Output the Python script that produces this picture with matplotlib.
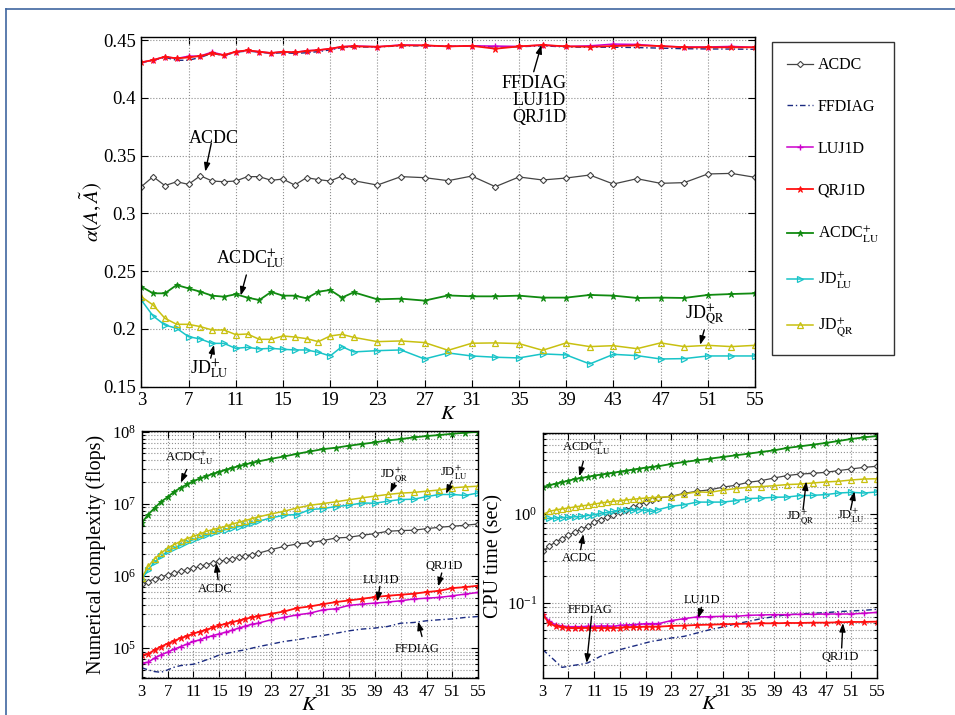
import numpy as np
import matplotlib
matplotlib.use("Agg")
import matplotlib.pyplot as plt
from matplotlib.lines import Line2D
from matplotlib.ticker import LogLocator, NullFormatter

plt.rcParams['font.family'] = ['Liberation Serif', 'DejaVu Serif']
plt.rcParams['mathtext.fontset'] = 'stix'

# ---------------- data ----------------
K = [3, 4, 5, 6, 7, 8, 9, 10, 11, 12, 13, 14, 15, 16, 17, 18, 19, 20, 21,
     23, 25, 27, 29, 31, 33, 35, 37, 39, 41, 43, 45, 47, 49, 51, 53, 55]

methods = ["ACDC", "FFDIAG", "LUJ1D", "QRJ1D", "ACDC+LU", "JD+LU", "JD+QR"]

# performance index alpha(A, A~)
alpha_acdc = [0.3231, 0.3318, 0.3240, 0.3274, 0.3251, 0.3326, 0.3280, 0.3274, 0.3280, 0.3318,
              0.3318, 0.3286, 0.3297, 0.3245, 0.3309, 0.3292, 0.3280, 0.3323, 0.3283,
              0.3245, 0.3318, 0.3309, 0.3283, 0.3323, 0.3231, 0.3315, 0.3289, 0.3306, 0.3332,
              0.3254, 0.3300, 0.3260, 0.3266, 0.3341, 0.3346, 0.3312]
alpha_ffdiag = [0.4305, 0.4325, 0.4350, 0.4325, 0.4325, 0.4350, 0.4385, 0.4365, 0.4395, 0.4405,
                0.4395, 0.4385, 0.4390, 0.4385, 0.4390, 0.4400, 0.4415, 0.4435, 0.4440,
                0.4440, 0.4450, 0.4450, 0.4445, 0.4448, 0.4440, 0.4442, 0.4450, 0.4440, 0.4438,
                0.4438, 0.4435, 0.4430, 0.4425, 0.4423, 0.4422, 0.4420]
alpha_luj1d = [0.4307, 0.4327, 0.4356, 0.4341, 0.4360, 0.4362, 0.4396, 0.4370, 0.4399, 0.4411,
               0.4399, 0.4388, 0.4399, 0.4393, 0.4408, 0.4413, 0.4425, 0.4442, 0.4450,
               0.4442, 0.4458, 0.4454, 0.4445, 0.4450, 0.4448, 0.4445, 0.4457, 0.4445, 0.4450,
               0.4465, 0.4462, 0.4448, 0.4440, 0.4440, 0.4445, 0.4437]
alpha_qrj1d = [0.4307, 0.4327, 0.4356, 0.4341, 0.4350, 0.4362, 0.4385, 0.4370, 0.4399, 0.4411,
               0.4399, 0.4388, 0.4399, 0.4393, 0.4405, 0.4413, 0.4425, 0.4442, 0.4445,
               0.4442, 0.4454, 0.4454, 0.4445, 0.4450, 0.4425, 0.4445, 0.4457, 0.4445, 0.4442,
               0.4448, 0.4454, 0.4448, 0.4437, 0.4437, 0.4437, 0.4437]
alpha_acdclu = [0.2366, 0.2308, 0.2308, 0.2380, 0.2351, 0.2322, 0.2288, 0.2279, 0.2300, 0.2271,
                0.2250, 0.2320, 0.2288, 0.2288, 0.2265, 0.2322, 0.2337, 0.2271, 0.2317,
                0.2256, 0.2262, 0.2245, 0.2290, 0.2282, 0.2282, 0.2288, 0.2271, 0.2271, 0.2294,
                0.2288, 0.2268, 0.2271, 0.2268, 0.2294, 0.2302, 0.2308]
alpha_jdlu = [0.2250, 0.2112, 0.2034, 0.2005, 0.1933, 0.1913, 0.1875, 0.1875, 0.1832, 0.1841,
              0.1827, 0.1832, 0.1824, 0.1818, 0.1818, 0.1798, 0.1766, 0.1847, 0.1801,
              0.1812, 0.1818, 0.1740, 0.1792, 0.1766, 0.1755, 0.1749, 0.1784, 0.1775, 0.1697,
              0.1780, 0.1769, 0.1740, 0.1743, 0.1766, 0.1766, 0.1766]
alpha_jdqr = [0.2279, 0.2207, 0.2092, 0.2040, 0.2040, 0.2020, 0.1991, 0.1991, 0.1951, 0.1956,
              0.1910, 0.1910, 0.1939, 0.1930, 0.1916, 0.1890, 0.1939, 0.1953, 0.1927,
              0.1890, 0.1896, 0.1882, 0.1815, 0.1876, 0.1879, 0.1873, 0.1815, 0.1879, 0.1847,
              0.1855, 0.1829, 0.1879, 0.1847, 0.1858, 0.1847, 0.1858]

# numerical complexity (flops)
flops_acdc = [7.7e5, 8.4e5, 9.2e5, 9.7e5, 1.04e6, 1.10e6, 1.16e6, 1.22e6, 1.29e6, 1.36e6,
              1.44e6, 1.52e6, 1.60e6, 1.67e6, 1.74e6, 1.82e6, 1.90e6, 1.98e6, 2.07e6,
              2.32e6, 2.58e6, 2.78e6, 2.90e6, 3.10e6, 3.37e6, 3.44e6, 3.67e6, 3.87e6, 4.17e6,
              4.27e6, 4.31e6, 4.54e6, 4.74e6, 4.90e6, 5.06e6, 5.27e6]
flops_ffdiag = [5.38e4, 5.00e4, 4.74e4, 4.64e4, 5.00e4, 5.45e4, 5.74e4, 5.87e4, 6.00e4, 6.40e4,
                6.89e4, 7.41e4, 8.07e4, 8.43e4, 8.79e4, 9.18e4, 9.48e4, 1.00e5, 1.05e5,
                1.14e5, 1.24e5, 1.31e5, 1.41e5, 1.50e5, 1.61e5, 1.74e5, 1.84e5, 1.90e5, 2.00e5,
                2.22e5, 2.27e5, 2.40e5, 2.48e5, 2.55e5, 2.67e5, 2.75e5]
flops_luj1d = [6.2e4, 6.4e4, 7.3e4, 8.1e4, 8.8e4, 9.7e4, 1.05e5, 1.14e5, 1.24e5, 1.31e5,
               1.41e5, 1.50e5, 1.58e5, 1.67e5, 1.78e5, 1.90e5, 2.02e5, 2.15e5, 2.22e5,
               2.48e5, 2.67e5, 2.90e5, 3.06e5, 3.40e5, 3.52e5, 3.92e5, 4.08e5, 4.22e5, 4.36e5,
               4.54e5, 4.80e5, 4.94e5, 5.06e5, 5.33e5, 5.62e5, 5.93e5]
flops_qrj1d = [8.1e4, 8.3e4, 9.5e4, 1.05e5, 1.16e5, 1.26e5, 1.38e5, 1.47e5, 1.60e5, 1.70e5,
               1.80e5, 1.94e5, 2.07e5, 2.18e5, 2.30e5, 2.42e5, 2.55e5, 2.67e5, 2.78e5,
               3.00e5, 3.23e5, 3.60e5, 3.79e5, 4.08e5, 4.36e5, 4.59e5, 4.84e5, 5.11e5, 5.33e5,
               5.51e5, 5.69e5, 6.00e5, 6.25e5, 6.81e5, 7.03e5, 7.35e5]
flops_acdclu = [5.45e6, 7.1e6, 8.8e6, 1.07e7, 1.24e7, 1.47e7, 1.67e7, 1.86e7, 2.07e7, 2.25e7,
                2.42e7, 2.61e7, 2.78e7, 2.97e7, 3.16e7, 3.33e7, 3.52e7, 3.71e7, 3.87e7,
                4.22e7, 4.54e7, 4.94e7, 5.33e7, 5.74e7, 6.00e7, 6.40e7, 6.75e7, 7.11e7, 7.59e7,
                7.91e7, 8.34e7, 8.71e7, 9.00e7, 9.38e7, 9.68e7, 1.00e8]
flops_jdlu = [8.9e5, 1.22e6, 1.56e6, 1.87e6, 2.20e6, 2.45e6, 2.67e6, 2.94e6, 3.20e6, 3.44e6,
              3.67e6, 3.95e6, 4.17e6, 4.41e6, 4.65e6, 4.84e6, 5.06e6, 5.38e6, 5.74e6,
              6.40e6, 6.97e6, 7.11e6, 8.34e6, 8.61e6, 9.18e6, 9.57e6, 1.03e7, 1.02e7, 1.09e7,
              1.15e7, 1.16e7, 1.26e7, 1.35e7, 1.35e7, 1.31e7, 1.42e7]
flops_jdqr = [9.4e5, 1.36e6, 1.74e6, 2.08e6, 2.45e6, 2.72e6, 3.03e6, 3.30e6, 3.56e6, 3.83e6,
              4.17e6, 4.41e6, 4.65e6, 4.90e6, 5.27e6, 5.56e6, 5.87e6, 6.25e6, 6.59e6,
              7.26e6, 7.91e6, 8.79e6, 9.57e6, 1.01e7, 1.07e7, 1.14e7, 1.21e7, 1.28e7, 1.35e7,
              1.41e7, 1.44e7, 1.50e7, 1.56e7, 1.67e7, 1.72e7, 1.76e7]

# CPU time (sec)
cpu_acdc = [0.381, 0.434, 0.484, 0.528, 0.575, 0.628, 0.673, 0.726, 0.813, 0.863,
            0.918, 0.984, 1.05, 1.12, 1.19, 1.27, 1.36, 1.45, 1.51,
            1.58, 1.71, 1.80, 1.87, 2.00, 2.10, 2.27, 2.37, 2.54, 2.70,
            2.81, 2.86, 2.94, 3.07, 3.21, 3.34, 3.44]
cpu_ffdiag = [0.0299, 0.0258, 0.0221, 0.0189, 0.0194, 0.0200, 0.0205, 0.0212, 0.0231, 0.0252,
              0.0267, 0.0281, 0.0299, 0.0312, 0.0326, 0.0340, 0.0356, 0.0371, 0.0381,
              0.0404, 0.0422, 0.0460, 0.0501, 0.0537, 0.0581, 0.0622, 0.0667, 0.0702, 0.0740,
              0.0752, 0.0766, 0.0778, 0.0800, 0.0813, 0.0828, 0.0849]
cpu_luj1d = [0.0752, 0.0622, 0.0571, 0.0552, 0.0542, 0.0542, 0.0542, 0.0547, 0.0547, 0.0552,
             0.0552, 0.0547, 0.0561, 0.0566, 0.0571, 0.0576, 0.0586, 0.0586, 0.0586,
             0.0634, 0.0667, 0.0697, 0.0702, 0.0708, 0.0708, 0.0727, 0.0733, 0.0740, 0.0740,
             0.0746, 0.0746, 0.0752, 0.0752, 0.0752, 0.0766, 0.0784]
cpu_qrj1d = [0.0740, 0.0596, 0.0547, 0.0533, 0.0524, 0.0519, 0.0524, 0.0524, 0.0524, 0.0524,
             0.0524, 0.0524, 0.0528, 0.0533, 0.0533, 0.0537, 0.0542, 0.0542, 0.0542,
             0.0552, 0.0557, 0.0566, 0.0571, 0.0576, 0.0581, 0.0586, 0.0591, 0.0591, 0.0596,
             0.0596, 0.0601, 0.0601, 0.0606, 0.0612, 0.0612, 0.0617]
cpu_acdclu = [2.00, 2.10, 2.19, 2.27, 2.37, 2.47, 2.54, 2.61, 2.70, 2.77,
              2.84, 2.91, 2.99, 3.07, 3.15, 3.23, 3.32, 3.37, 3.44,
              3.65, 3.84, 4.01, 4.19, 4.37, 4.56, 4.76, 4.98, 5.19, 5.52,
              5.75, 6.01, 6.28, 6.61, 6.97, 7.26, 7.52]
cpu_jdlu = [0.90, 0.89, 0.90, 0.91, 0.92, 0.93, 0.94, 0.96, 0.98, 1.02,
            1.04, 1.07, 1.11, 1.12, 1.10, 1.12, 1.10, 1.07, 1.12,
            1.22, 1.27, 1.36, 1.36, 1.36, 1.41, 1.49, 1.51, 1.54, 1.55,
            1.61, 1.62, 1.65, 1.72, 1.75, 1.72, 1.77]
cpu_jdqr = [0.98, 1.07, 1.11, 1.14, 1.17, 1.20, 1.23, 1.26, 1.29, 1.33,
            1.36, 1.39, 1.41, 1.44, 1.46, 1.49, 1.51, 1.53, 1.54,
            1.57, 1.68, 1.77, 1.75, 1.85, 1.93, 2.00, 2.03, 2.08, 2.14,
            2.17, 2.23, 2.29, 2.33, 2.41, 2.47, 2.49]

xticks = [3, 7, 11, 15, 19, 23, 27, 31, 35, 39, 43, 47, 51, 55]
alpha_ticks = [0.15, 0.2, 0.25, 0.3, 0.35, 0.4, 0.45]
alpha_ticklabels = ['0.15', '0.2', '0.25', '0.3', '0.35', '0.4', '0.45']

# ---------------- styles ----------------
labels = {
    "ACDC": "ACDC", "FFDIAG": "FFDIAG", "LUJ1D": "LUJ1D", "QRJ1D": "QRJ1D",
    "ACDC+LU": r"ACDC$^{+}_{\mathrm{LU}}$",
    "JD+LU": r"JD$^{+}_{\mathrm{LU}}$",
    "JD+QR": r"JD$^{+}_{\mathrm{QR}}$",
}
styles = {
    "ACDC":    dict(color='#444444', marker='D', ms=3.2, mfc='white', mec='#444444', mew=0.8, ls='-', lw=0.9),
    "FFDIAG":  dict(color='#1a2a80', marker=None, ls=(0, (4, 2, 1, 2)), lw=1.0),
    "LUJ1D":   dict(color='#cc00cc', marker='+', ms=4.5, mew=1.0, ls='-', lw=1.1),
    "QRJ1D":   dict(color='#ff1010', marker='*', ms=4.5, mew=0.6, ls='-', lw=1.3),
    "ACDC+LU": dict(color='#108a10', marker='*', ms=5, mew=0.6, ls='-', lw=1.3),
    "JD+LU":   dict(color='#18c4c8', marker='>', ms=4, mfc='none', mew=0.9, ls='-', lw=1.1),
    "JD+QR":   dict(color='#c8c010', marker='^', ms=4, mfc='none', mew=0.9, ls='-', lw=1.1),
}

alpha_data = dict(zip(methods, [alpha_acdc, alpha_ffdiag, alpha_luj1d, alpha_qrj1d,
                                alpha_acdclu, alpha_jdlu, alpha_jdqr]))
flops_data = dict(zip(methods, [flops_acdc, flops_ffdiag, flops_luj1d, flops_qrj1d,
                                flops_acdclu, flops_jdlu, flops_jdqr]))
cpu_data = dict(zip(methods, [cpu_acdc, cpu_ffdiag, cpu_luj1d, cpu_qrj1d,
                              cpu_acdclu, cpu_jdlu, cpu_jdqr]))

W, H = 955, 715
fig = plt.figure(figsize=(W / 100, H / 100), dpi=100)


def rect(l, t, r, b):
    return [l / W, 1 - b / H, (r - l) / W, (b - t) / H]


ax1 = fig.add_axes(rect(141.3, 36.7, 755, 386.7))
ax2 = fig.add_axes(rect(141.7, 431, 478.3, 678.3))
ax3 = fig.add_axes(rect(542.7, 433, 877, 678))

grid_kw = dict(color='#8f8f8f', linestyle=':', linewidth=0.8)


def style_axes(ax, tick_fs):
    ax.tick_params(direction='in', which='both', top=True, right=True,
                   labelsize=tick_fs, length=5, width=0.8, pad=4)
    ax.tick_params(which='minor', length=2.5)
    for s in ax.spines.values():
        s.set_linewidth(1.0)
        s.set_color('black')
    ax.set_xlim(3, 55)
    ax.set_xticks(xticks)
    ax.set_axisbelow(True)


# ---------- top panel ----------
handles = []
for m in methods:
    h, = ax1.plot(K, alpha_data[m], label=labels[m], **styles[m])
    handles.append(h)
style_axes(ax1, 13.5)
ax1.set_ylim(0.15, 0.4529)
ax1.set_yticks(alpha_ticks)
ax1.set_yticklabels(alpha_ticklabels)
ax1.grid(True, which='major', **grid_kw)
ax1.set_ylabel(r'$\alpha(A,\tilde{A})$', fontsize=15, labelpad=-1)
ax1.set_xlabel(r'$K$', fontsize=15, labelpad=-3)

leg = fig.legend(handles=handles, loc='upper left',
                 bbox_to_anchor=(772 / W, 1 - 42 / H), fontsize=11.5,
                 frameon=True, fancybox=False, edgecolor='black',
                 handlelength=1.6, handletextpad=0.3, labelspacing=1.62,
                 borderpad=0.95, borderaxespad=0)
leg.get_frame().set_linewidth(1.0)

arrow_kw = dict(arrowstyle='-|>,head_length=0.5,head_width=0.18', color='black',
                lw=1.0, shrinkA=0, shrinkB=0)


def annotate(ax, text, tip, tail, tpos, fs, ha='center', va='baseline', **kw):
    ax.annotate('', xy=tip, xytext=tail, arrowprops=arrow_kw)
    ax.text(tpos[0], tpos[1], text, fontsize=fs, ha=ha, va=va, **kw)


annotate(ax1, 'ACDC', (8.42, 0.3361), (8.93, 0.3606), (9.18, 0.3612), 13)
annotate(ax1, labels["ACDC+LU"], (11.42, 0.2288), (11.9, 0.2467), (9.36, 0.2568), 13, ha='left')
annotate(ax1, labels["JD+LU"], (9.16, 0.1862), (8.88, 0.1747), (7.1, 0.1617), 13, ha='left')
annotate(ax1, labels["JD+QR"], (50.35, 0.1862), (50.7, 0.1991), (49.08, 0.2093), 13, ha='left')
annotate(ax1, 'FFDIAG\nLUJ1D\nQRJ1D', (36.9, 0.4457), (36.25, 0.4226), (39.0, 0.4200), 13,
         ha='right', va='top', multialignment='right', linespacing=1.0)

# ---------- bottom-left panel ----------
for m in methods:
    ax2.plot(K, flops_data[m], **styles[m])
ax2.set_yscale('log')
style_axes(ax2, 12)
ax2.set_ylim(10 ** 4.583, 10 ** 8.01)
ax2.yaxis.set_major_locator(LogLocator(base=10, numticks=10))
ax2.yaxis.set_minor_locator(LogLocator(base=10, subs=np.arange(2, 10), numticks=20))
ax2.yaxis.set_minor_formatter(NullFormatter())
ax2.grid(True, which='major', **grid_kw)
ax2.grid(True, which='minor', axis='y', **grid_kw)
ax2.set_ylabel('Numerical complexity (flops)', fontsize=14.5, labelpad=4)
ax2.set_xlabel(r'$K$', fontsize=15, labelpad=-3)

fs_small = 9
annotate(ax2, labels["ACDC+LU"], (9.03, 10 ** 7.292), (9.95, 10 ** 7.477), (6.6, 10 ** 7.593), fs_small, ha='left')
annotate(ax2, labels["JD+QR"], (41.4, 10 ** 7.153), (42.1, 10 ** 7.292), (39.8, 10 ** 7.361), fs_small, ha='left')
annotate(ax2, labels["JD+LU"], (50.0, 10 ** 7.139), (50.9, 10 ** 7.315), (49.1, 10 ** 7.384), fs_small, ha='left')
annotate(ax2, 'ACDC', (14.5, 10 ** 6.181), (14.8, 10 ** 5.949), (14.3, 10 ** 5.778), fs_small)
annotate(ax2, 'QRJ1D', (48.8, 10 ** 5.856), (49.35, 10 ** 6.042), (49.7, 10 ** 6.102), fs_small)
annotate(ax2, 'LUJ1D', (39.4, 10 ** 5.648), (39.8, 10 ** 5.856), (39.9, 10 ** 5.903), fs_small)
annotate(ax2, 'FFDIAG', (45.7, 10 ** 5.370), (46.3, 10 ** 5.162), (45.5, 10 ** 4.954), fs_small)

# ---------- bottom-right panel ----------
for m in methods:
    ax3.plot(K, cpu_data[m], **styles[m])
ax3.set_yscale('log')
style_axes(ax3, 12)
ax3.set_ylim(10 ** -1.843, 10 ** 0.91)
ax3.yaxis.set_major_locator(LogLocator(base=10, numticks=10))
ax3.yaxis.set_minor_locator(LogLocator(base=10, subs=np.arange(2, 10), numticks=20))
ax3.yaxis.set_minor_formatter(NullFormatter())
ax3.grid(True, which='major', **grid_kw)
ax3.grid(True, which='minor', axis='y', **grid_kw)
ax3.set_ylabel('CPU time (sec)', fontsize=14.5, labelpad=2)
ax3.set_xlabel(r'$K$', fontsize=15, labelpad=-3)

annotate(ax3, labels["ACDC+LU"], (8.7, 10 ** 0.423), (9.32, 10 ** 0.592), (5.95, 10 ** 0.704), fs_small, ha='left')
annotate(ax3, 'ACDC', (9.32, 10 ** -0.225), (8.9, 10 ** -0.401), (8.65, 10 ** -0.532), fs_small)
annotate(ax3, labels["JD+QR"], (44.0, 10 ** 0.367), (43.5, 10 ** 0.049), (40.9, 10 ** -0.064), fs_small, ha='left')
annotate(ax3, labels["JD+LU"], (51.5, 10 ** 0.255), (50.9, 10 ** 0.049), (48.8, 10 ** -0.064), fs_small, ha='left')
annotate(ax3, 'FFDIAG', (9.84, 10 ** -1.674), (10.6, 10 ** -1.150), (10.4, 10 ** -1.112), fs_small)
annotate(ax3, 'LUJ1D', (27.2, 10 ** -1.169), (27.7, 10 ** -1.049), (27.8, 10 ** -1.0), fs_small)
annotate(ax3, 'QRJ1D', (49.7, 10 ** -1.225), (49.5, 10 ** -1.506), (49.2, 10 ** -1.637), fs_small)

# ---------- page frame ----------
frame_col = '#3f66a0'
fig.add_artist(Line2D([6 / W, 6 / W], [0, 1 - 9 / H], transform=fig.transFigure,
                      color=frame_col, lw=1.2))
fig.add_artist(Line2D([6 / W, 1], [1 - 9 / H, 1 - 9 / H], transform=fig.transFigure,
                      color=frame_col, lw=1.2))

fig.savefig('out.png', dpi=100)
